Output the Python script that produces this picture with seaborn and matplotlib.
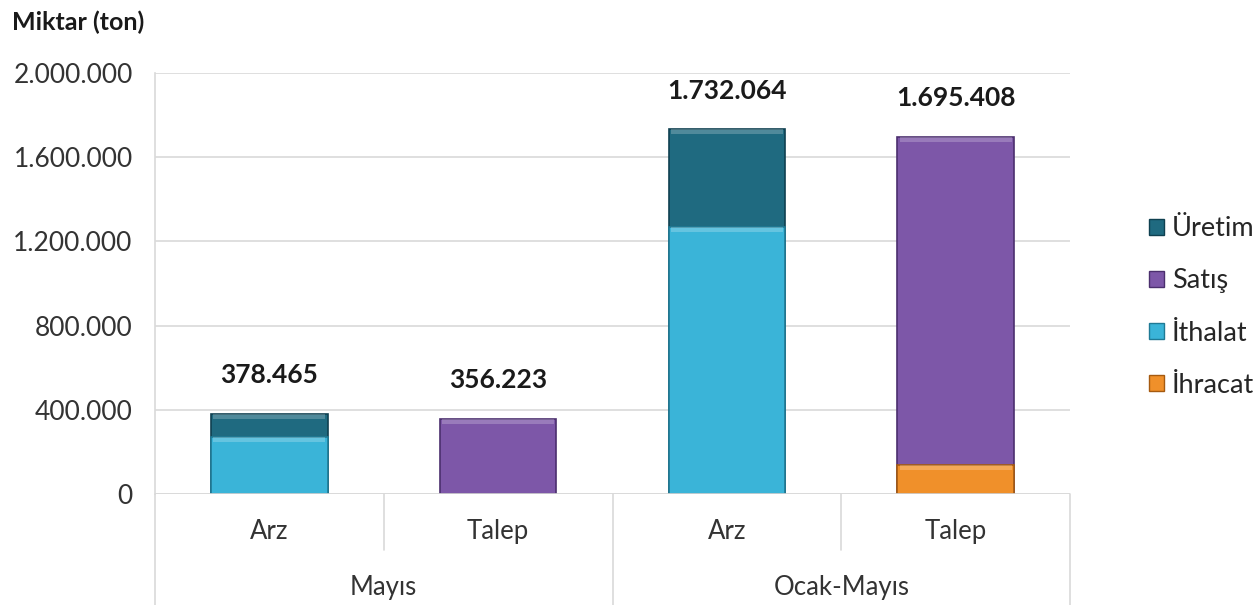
import matplotlib
matplotlib.use("Agg")
import matplotlib.pyplot as plt
from matplotlib.patches import Patch
import numpy as np
import pandas as pd
import seaborn as sns

# veriler (ton)
donemler = ['Mayıs', 'Mayıs', 'Ocak-Mayıs', 'Ocak-Mayıs']
turler = ['Arz', 'Talep', 'Arz', 'Talep']
toplam = [378465, 356223, 1732064, 1695408]
alt_seri = [271000, 0, 1267000, 138000]      # İthalat / İhracat
alt_ad = ['İthalat', 'İhracat', 'İthalat', 'İhracat']
ust_ad = ['Üretim', 'Satış', 'Üretim', 'Satış']
yticks = [0, 400000, 800000, 1200000, 1600000, 2000000]

renk = {
    'Üretim': '#1f6a80',
    'Satış': '#7d57a8',
    'İthalat': '#3ab4d8',
    'İhracat': '#f0902a',
}
kenar = {
    'Üretim': '#0f4050',
    'Satış': '#4b2f6e',
    'İthalat': '#1f7a95',
    'İhracat': '#a55a10',
}

df = pd.DataFrame({'donem': donemler, 'tur': turler, 'toplam': toplam,
                   'alt': alt_seri, 'alt_ad': alt_ad, 'ust_ad': ust_ad})
df['kat'] = [f'{d}\n{t}{i}' for i, (d, t) in enumerate(zip(donemler, turler))]

sns.set_style('white')
plt.rcParams['font.family'] = ['Lato', 'DejaVu Sans']

fig = plt.figure(figsize=(12.59, 6.05), dpi=100)
ax = fig.add_axes([0.1231, 0.1835, 0.7268, 0.6958])

# üst seri = toplam, üzerine alt seri çizilir
sns.barplot(data=df, x='kat', y='toplam', hue='kat', ax=ax, width=0.51,
            palette=[renk[a] for a in ust_ad], legend=False, saturation=1)
sns.barplot(data=df, x='kat', y='alt', hue='kat', ax=ax, width=0.51,
            palette=[renk[a] for a in alt_ad], legend=False, saturation=1)

n = len(df)
for i, p in enumerate(ax.patches):
    ad = ust_ad[i % n] if i < n else alt_ad[i % n]
    h = p.get_height()
    if h <= 0:
        p.set_visible(False)
        continue
    p.set_edgecolor(kenar[ad])
    p.set_linewidth(1.2)
    # üst kenarda açık parlama şeridi
    x0, w = p.get_x(), p.get_width()
    y0 = df['alt'][i % n] if i < n else 0
    top = p.get_y() + h
    hl = min(22000, (top - y0) * 0.5)
    ax.fill_between([x0 + 0.01, x0 + w - 0.01], top - hl, top,
                    color='white', alpha=0.22, lw=0, zorder=3)

for i, v in enumerate(toplam):
    ax.annotate(f'{v:,}'.replace(',', '.'), (i, v), xytext=(0, 28),
                textcoords='offset points', ha='center', va='center',
                fontsize=19, fontweight='bold', color='#1a1a1a')

ax.set_ylim(0, 2000000)
ax.set_xlim(-0.5, 3.5)
ax.set_yticks(yticks)
ax.set_yticklabels([f'{v:,}'.replace(',', '.') for v in yticks],
                   fontsize=19, color='#333333')
ax.yaxis.grid(True, color='#d9d9d9', lw=1.2)
ax.set_axisbelow(True)
ax.tick_params(axis='y', length=8, color='#d9d9d9', width=1.2, pad=8)
ax.tick_params(axis='x', length=0)
ax.set_xticks([])
ax.set_xlabel('')
ax.set_ylabel('')
for s in ['top', 'right', 'bottom']:
    ax.spines[s].set_visible(False)
ax.spines['left'].set_color('#d9d9d9')
ax.spines['left'].set_linewidth(1.2)
ax.axhline(0, color='#d9d9d9', lw=1.2, zorder=1)

# iki seviyeli kategori ekseni
tr = ax.get_xaxis_transform()
for xb, alt in [(-0.5, -0.264), (0.5, -0.133), (1.5, -0.264), (2.5, -0.133), (3.5, -0.264)]:
    ax.plot([xb, xb], [0, alt], transform=tr, color='#d9d9d9', lw=1.2, clip_on=False)
for i, t in enumerate(turler):
    ax.text(i, -0.09, t, transform=tr, ha='center', va='center', fontsize=18.5, color='#333333')
for xc, d in [(0.5, 'Mayıs'), (2.5, 'Ocak-Mayıs')]:
    ax.text(xc, -0.223, d, transform=tr, ha='center', va='center', fontsize=18.5, color='#333333')

fig.text(12 / 1259, 1 - 22 / 605, 'Miktar (ton)', fontsize=18, fontweight='bold',
         ha='left', va='center', color='#1a1a1a')

# lejant
sira = ['Üretim', 'Satış', 'İthalat', 'İhracat']
handles = [Patch(facecolor=renk[s], edgecolor=kenar[s], label=s) for s in sira]
fig.legend(handles=handles, loc='center left', bbox_to_anchor=(1138 / 1259, 1 - 307 / 605),
           frameon=False, fontsize=19.5, handlelength=0.55, handleheight=0.55,
           handletextpad=0.3, labelspacing=1.0, borderaxespad=0)

fig.savefig('out.png', dpi=100)
